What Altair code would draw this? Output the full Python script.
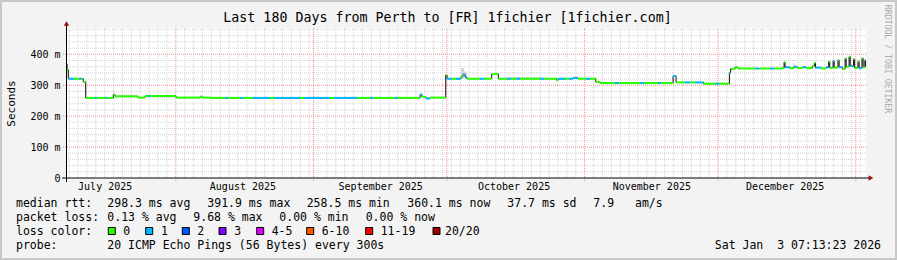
import altair as alt
import pandas as pd
from datetime import datetime, timedelta

FONT = "DejaVu Sans Mono"
START = datetime(2025, 7, 7, 7, 13, 23)
SPAN = 180  # days

# ---------------- data ----------------
# segment start (days after START), median rtt (ms), lost pings (index into loss_labels)
seg_day = [0.00, 0.23, 0.52, 1.80, 2.93, 3.50, 3.89, 4.43, 6.53, 6.98, 8.78, 9.23, 10.64, 11.03,
           16.20, 17.78, 18.45, 18.90, 24.75, 30.15, 30.83, 32.40, 35.78, 36.45, 39.15, 39.83,
           42.08, 45.90, 46.80, 52.65, 53.55, 59.40, 60.30, 65.48, 68.40, 69.08, 74.03, 74.70,
           79.66, 80.11, 81.01, 81.91, 85.44, 85.73, 86.86, 87.76, 88.88, 89.33, 89.78, 90.23,
           93.16, 94.06, 95.79, 97.28, 99.23, 100.13, 101.26, 102.16, 106.66, 107.56, 110.42,
           110.71, 112.29, 113.19, 114.09, 115.21, 117.01, 117.91, 119.19, 120.16, 123.54, 124.44,
           129.16, 130.06, 133.21, 133.89, 136.59, 137.26, 139.29, 140.41, 141.54, 143.41, 146.04,
           146.94, 149.26, 149.53, 150.54, 151.21, 155.04, 155.94, 158.42, 159.32, 161.05, 161.57,
           161.80, 162.90, 163.80, 164.50, 165.80, 166.50, 167.90, 168.40, 168.65, 169.90, 171.00,
           171.60, 171.85, 172.60, 172.85, 173.70, 173.95, 174.70, 175.30, 175.55, 176.20, 176.45,
           177.20, 177.45, 178.20, 178.45, 179.10, 179.35, 179.75, 179.90]
seg_ms = [368, 350, 321, 321, 321, 321, 311, 259, 259, 259, 259, 259, 270, 264,
          260, 265, 265, 265, 260, 263, 260, 259, 259, 259, 259, 259,
          259, 259, 259, 259, 259, 259, 259, 259, 259, 259, 259, 259,
          270, 262, 257, 260, 333, 321, 321, 321, 328, 335, 326, 321,
          321, 321, 336, 321, 321, 321, 321, 321, 321, 321, 316,
          321, 321, 321, 324, 321, 321, 321, 311, 307, 307, 307,
          307, 307, 307, 307, 330, 309, 309, 309, 309, 305, 305,
          305, 340, 353, 358, 354, 354, 354, 354, 354, 356, 374,
          358, 355, 360, 356, 359, 355, 362, 372, 357, 354, 358,
          376, 356, 378, 357, 381, 358, 353, 386, 360, 391.9, 362,
          384, 356, 377, 355, 387, 358, 380, 360]
seg_loss = [1, 0, 1, 0, 1, 0, 0, 0, 1, 0, 1, 0, 0, 0,
            0, 0, 1, 0, 0, 0, 0, 0, 1, 0, 1, 0,
            1, 0, 1, 0, 1, 0, 1, 0, 1, 0, 1, 0,
            1, 0, 1, 0, 0, 1, 0, 1, 0, 1, 1, 0,
            1, 0, 0, 0, 1, 0, 1, 0, 1, 0, 0,
            1, 0, 1, 1, 0, 1, 0, 0, 0, 1, 0,
            1, 0, 1, 0, 1, 0, 1, 0, 1, 0, 1,
            0, 1, 0, 0, 0, 1, 0, 1, 0, 0, 0,
            1, 0, 1, 0, 1, 0, 0, 0, 1, 0, 1,
            0, 0, 1, 0, 0, 1, 0, 0, 0, 0, 1,
            0, 0, 0, 1, 0, 0, 1, 0]

# smoke (spread of the individual pings)
smoke_day0 = [0.00, 88.88, 89.78, 99.0, 161.5, 163.6, 168.3, 171.5, 172.5, 173.6, 175.2, 176.1, 177.1, 178.1, 179.0, 179.7]
smoke_day1 = [0.40, 89.60, 90.20, 107.0, 161.8, 163.9, 168.6, 171.8, 172.8, 173.9, 175.5, 176.4, 177.4, 178.4, 179.3, 179.95]
smoke_lo = [340, 321, 321, 321, 356, 356, 356, 356, 357, 358, 360, 362, 356, 355, 358, 360]
smoke_hi = [372, 356, 345, 326, 380, 372, 375, 380, 382, 385, 390, 395, 388, 382, 392, 385]

loss_labels = ["0", "1", "2", "3", "4-5", "6-10", "11-19", "20/20"]
loss_colors = ["#26ff00", "#00b8ff", "#0059ff", "#7e00ff", "#dd00ff", "#ff5500", "#ff0000", "#a10000"]

y_major = [0, 100, 200, 300, 400]
y_minor = [20, 40, 60, 80, 120, 140, 160, 180, 220, 240, 260, 280, 320, 340, 360, 380, 420, 440, 460, 480]
month_starts = ["2025-08-01", "2025-09-01", "2025-10-01", "2025-11-01", "2025-12-01", "2026-01-01"]
month_label_days = [(2025, 7, 16), (2025, 8, 16), (2025, 9, 16), (2025, 10, 16), (2025, 11, 16), (2025, 12, 16)]

title_text = "Last 180 Days from Perth to [FR] 1fichier [1fichier.com]"
legend_rtt = ["median rtt:", "298.3 ms avg", "391.9 ms max", "258.5 ms min", "360.1 ms now", "37.7 ms sd", "7.9", "am/s"]
legend_loss = ["packet loss:", "0.13 % avg", "9.68 % max", "0.00 % min", "0.00 % now"]
probe_text = ["probe:", "20 ICMP Echo Pings (56 Bytes) every 300s"]
stamp_text = "Sat Jan\u00a0 3 07:13:23 2026"

assert len(seg_day) == len(seg_ms) == len(seg_loss)

# ---------------- tables ----------------
def ts(d):
    return START + timedelta(days=d)

END = ts(SPAN)
seg = pd.DataFrame({
    "t0": [ts(d) for d in seg_day],
    "t1": [ts(d) for d in seg_day[1:] + [SPAN]],
    "ms": seg_ms,
    "loss": [loss_labels[i] for i in seg_loss],
})
line_df = pd.DataFrame({"t0": [ts(d) for d in seg_day] + [END], "ms": seg_ms + [seg_ms[-1]]})
smoke = pd.DataFrame({"t0": [ts(d) for d in smoke_day0], "t1": [ts(d) for d in smoke_day1],
                      "lo": smoke_lo, "hi": smoke_hi})

# minor vertical grid every 2 days
minor_days = []
d = datetime(2025, 7, 8)
while d < END:
    if d.day != 1:
        minor_days.append(d)
    d += timedelta(days=2)
vminor = pd.DataFrame({"t": minor_days})
vmajor = pd.DataFrame({"t": pd.to_datetime(month_starts)})
hmajor = pd.DataFrame({"v": y_major[1:]})
hminor = pd.DataFrame({"v": y_minor})

XS = alt.Scale(domain=[alt.DateTime(year=2025, month=7, date=7, hours=7, minutes=13, seconds=23),
                       alt.DateTime(year=2026, month=1, date=3, hours=7, minutes=13, seconds=23)])
YS = alt.Scale(domain=[0, 485], nice=False, zero=True)

XAX = alt.Axis(values=[alt.DateTime(year=y, month=m, date=dd) for (y, m, dd) in month_label_days],
               format="%B %Y", labelFont=FONT, labelFontSize=10, labelColor="#000000",
               ticks=False, domain=False, grid=False, title=None, labelPadding=3,
               labelFlush=False, labelOverlap=False)
YAX = alt.Axis(values=y_major,
               labelExpr="datum.value == 0 ? '0\u00a0\u00a0' : datum.value + ' m'",
               labelFont=FONT, labelFontSize=10, labelColor="#000000",
               ticks=False, domain=False, grid=False, labelPadding=6,
               title="Seconds", titleFont=FONT, titleFontSize=11, titleFontWeight="normal",
               titleColor="#000000", titleX=-55, titleY=75, titleAlign="center",
               titleBaseline="middle", titleAngle=270)

MINOR_C = "#d4d4d4"
MAJOR_C = "#e89090"

grid_vminor = alt.Chart(vminor).mark_rule(color=MINOR_C, strokeDash=[1, 1], strokeWidth=1).encode(
    x=alt.X("t:T", scale=XS, axis=XAX), y=alt.value(0), y2=alt.value(150))
grid_hminor = alt.Chart(hminor).mark_rule(color=MINOR_C, strokeDash=[1, 1], strokeWidth=1).encode(
    y=alt.Y("v:Q", scale=YS, axis=YAX), x=alt.value(0), x2=alt.value(800))
grid_vmajor = alt.Chart(vmajor).mark_rule(color=MAJOR_C, strokeDash=[1, 1], strokeWidth=1).encode(
    x=alt.X("t:T", scale=XS, axis=XAX), y=alt.value(0), y2=alt.value(153))
grid_hmajor = alt.Chart(hmajor).mark_rule(color=MAJOR_C, strokeDash=[1, 1], strokeWidth=1).encode(
    y=alt.Y("v:Q", scale=YS, axis=YAX), x=alt.value(-3), x2=alt.value(800))

smoke_l = alt.Chart(smoke).mark_rect(color="#d6d6d6").encode(
    x=alt.X("t0:T", scale=XS, axis=XAX), x2="t1:T",
    y=alt.Y("lo:Q", scale=YS, axis=YAX), y2="hi:Q")

black = alt.Chart(line_df).mark_line(interpolate="step-after", color="#111111", strokeWidth=1).encode(
    x=alt.X("t0:T", scale=XS, axis=XAX), y=alt.Y("ms:Q", scale=YS, axis=YAX))

colored = alt.Chart(seg).mark_rule(strokeWidth=2).encode(
    x=alt.X("t0:T", scale=XS, axis=XAX), x2="t1:T",
    y=alt.Y("ms:Q", scale=YS, axis=YAX),
    color=alt.Color("loss:N", scale=alt.Scale(domain=loss_labels, range=loss_colors), legend=None))

AXC = "#000000"
ARROW = "#a01010"
one = pd.DataFrame({"a": [0]})
xaxis = alt.Chart(one).mark_rule(color=AXC, strokeWidth=1).encode(
    x=alt.value(-4), x2=alt.value(804), y=alt.value(150))
yaxis = alt.Chart(one).mark_rule(color=AXC, strokeWidth=1).encode(
    x=alt.value(0.5), y=alt.value(-3), y2=alt.value(154))
xarrow = alt.Chart(one).mark_point(shape="triangle-right", filled=True, color=ARROW, size=30, opacity=1).encode(
    x=alt.value(805), y=alt.value(150))
yarrow = alt.Chart(one).mark_point(shape="triangle-up", filled=True, color=ARROW, size=30, opacity=1).encode(
    x=alt.value(0.5), y=alt.value(-4.5))


def txt(s, x, y, size=11.5, align="left", color="#000000", angle=0):
    kw = dict(align=align, baseline="middle", font=FONT, fontSize=size, color=color)
    if angle:
        kw["angle"] = angle
    return alt.Chart(pd.DataFrame({"t": [s]})).mark_text(**kw).encode(
        text="t:N", x=alt.value(x), y=alt.value(y))


texts = [txt(title_text, 381.5, -10, size=13.3, align="center"),
         txt("RRDTOOL / TOBI OETIKER", 821, 31, size=8.2, align="center", color="#aaaaaa", angle=90)]

row1_x = [-50, 41.3, 141.3, 240.7, 341.3, 441.3, 527.3, 569]
for s, x in zip(legend_rtt, row1_x):
    texts.append(txt(s, x, 176))
row2_x = [-50, 41.3, 127.3, 213.3, 299.7]
for s, x in zip(legend_loss, row2_x):
    texts.append(txt(s, x, 190))
texts.append(txt("loss color:", -50, 204))
sw_x = [42.3, 79.7, 116.3, 153, 190.7, 240.7, 299.7, 367]
lab_x = [57.3, 95, 131.3, 168.3, 205.7, 255.7, 314.7, 379]
swatches = []
for lab, col, sx, lx in zip(loss_labels, loss_colors, sw_x, lab_x):
    swatches.append(alt.Chart(one).mark_rect(color=col, stroke="#000000", strokeWidth=1).encode(
        x=alt.value(sx), x2=alt.value(sx + 7), y=alt.value(199.5), y2=alt.value(206.5)))
    texts.append(txt(lab, lx, 204))
texts.append(txt(probe_text[0], -50, 218))
texts.append(txt(probe_text[1], 41.3, 218))
texts.append(txt(stamp_text, 815, 218, align="right"))

frame = alt.Chart(one).mark_rect(filled=False, stroke="#c8c8c8", strokeWidth=2).encode(
    x=alt.value(-65), x2=alt.value(830), y=alt.value(-27), y2=alt.value(231))

chart = alt.layer(
    grid_vminor, grid_hminor, grid_vmajor, grid_hmajor, smoke_l, black, colored,
    xaxis, yaxis, xarrow, yarrow, *swatches, *texts, frame
).properties(
    width=800, height=150,
    autosize=alt.AutoSizeParams(type="none"),
    padding={"left": 66, "top": 28, "right": 31, "bottom": 82},
    background="#f3f3f3",
).configure_view(fill="white", strokeWidth=0)

chart.save("out.html", embed_options={"renderer": "svg", "actions": False})
